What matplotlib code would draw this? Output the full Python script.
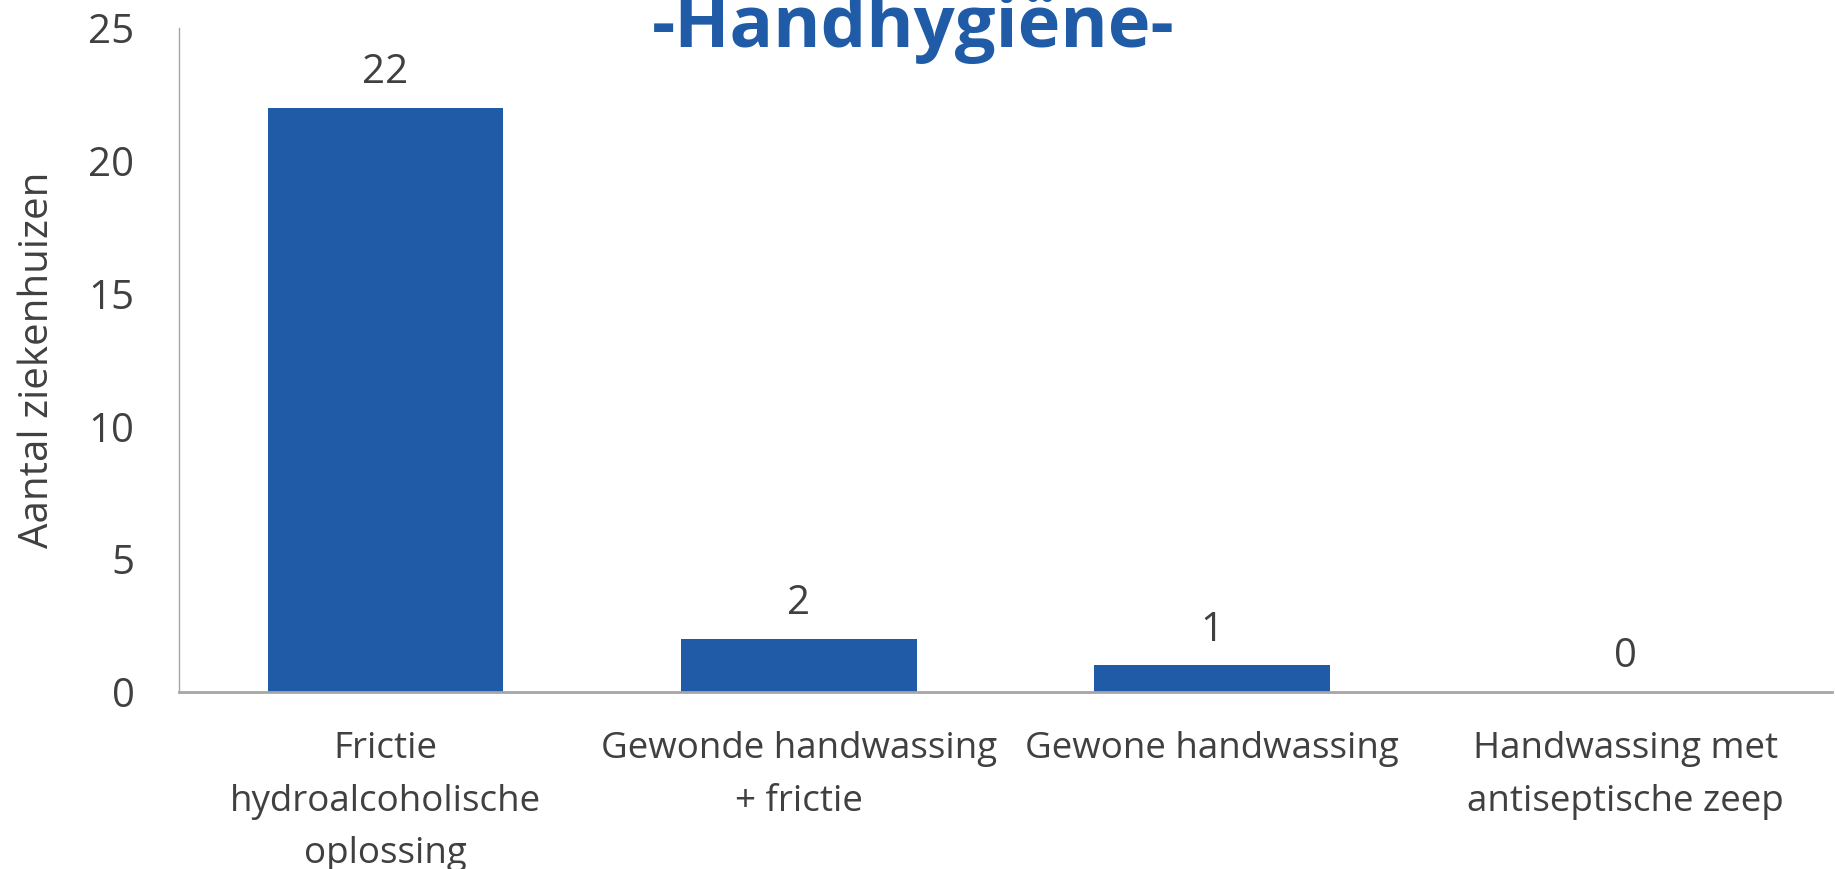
import matplotlib.pyplot as plt

plt.rcParams['font.family'] = ['Open Sans', 'DejaVu Sans']

categories = ["Frictie\nhydroalcoholische\noplossing",
              "Gewonde handwassing\n+ frictie",
              "Gewone handwassing",
              "Handwassing met\nantiseptische zeep"]
values = [22, 2, 1, 0]
yticks = [0, 5, 10, 15, 20, 25]

blue = "#1F5BA6"
grey_text = "#404040"

fig = plt.figure(figsize=(18.35, 8.69), dpi=100)
ax = fig.add_axes([0.0975, 0.2037, 0.9008, 0.764])

x = range(len(categories))
bars = ax.bar(x, values, width=0.57, color=blue)
for xi, v in zip(x, values):
    ax.text(xi, v + 0.55, str(v), ha='center', va='bottom',
            fontsize=29, color=grey_text)

ax.set_xlim(-0.5, len(categories) - 0.5)
ax.set_ylim(0, 25)
ax.set_yticks(yticks)
ax.set_xticks(list(x))
ax.set_xticklabels(categories, fontsize=26.5, color=grey_text, linespacing=1.62)
ax.tick_params(axis='x', length=0, pad=28)
ax.tick_params(axis='y', length=0, pad=32, labelsize=29, labelcolor=grey_text)
ax.set_ylabel("Aantal ziekenhuizen", fontsize=29, color=grey_text, labelpad=22)

for s in ['top', 'right']:
    ax.spines[s].set_visible(False)
ax.spines['left'].set_color('#A6A6A6')
ax.spines['left'].set_linewidth(1)
ax.spines['bottom'].set_color('#A6A6A6')
ax.spines['bottom'].set_linewidth(2)

fig.text(0.4975, 0.968, "-Handhygiëne-", ha='center', va='center',
         fontsize=52, fontweight='bold', color=blue)

fig.savefig("out.png", dpi=100)
